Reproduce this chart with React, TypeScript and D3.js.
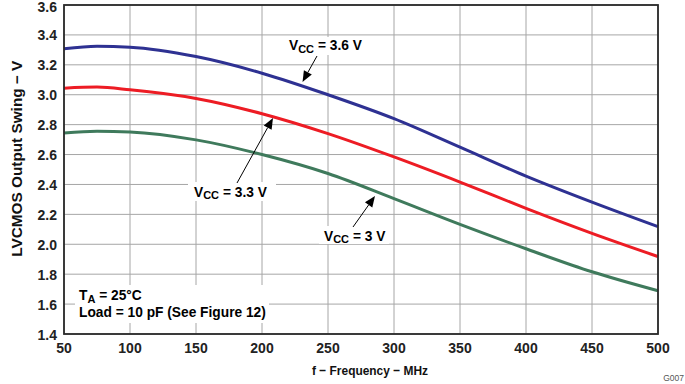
import React from "react";
import * as d3 from "d3";

const freqs = [50, 75, 100, 150, 200, 250, 300, 350, 400, 450, 500];
const vcc36 = [3.307, 3.324, 3.318, 3.255, 3.144, 3.0, 2.84, 2.649, 2.456, 2.282, 2.118];
const vcc33 = [3.044, 3.051, 3.033, 2.975, 2.873, 2.74, 2.584, 2.416, 2.24, 2.073, 1.918];
const vcc30 = [2.744, 2.756, 2.751, 2.698, 2.6, 2.473, 2.305, 2.133, 1.97, 1.816, 1.689];
const xTicks = [50, 100, 150, 200, 250, 300, 350, 400, 450, 500];
const yTicks = [1.4, 1.6, 1.8, 2.0, 2.2, 2.4, 2.6, 2.8, 3.0, 3.2, 3.4, 3.6];

const W = 685, H = 384;
const M = { left: 64, top: 5, right: 27, bottom: 50 };
const FONT = "'Liberation Sans', Arial, sans-serif";
const FS = 13.75;

const series = [
  { name: "3.6 V", values: vcc36, color: "#2e3192" },
  { name: "3.3 V", values: vcc33, color: "#ed1c24" },
  { name: "3 V", values: vcc30, color: "#3f7a5c" },
];

function Arrow({ x1, y1, x2, y2 }: { x1: number; y1: number; x2: number; y2: number }) {
  const ang = Math.atan2(y2 - y1, x2 - x1);
  const len = 11, half = 4.5;
  const bx = x2 - len * Math.cos(ang), by = y2 - len * Math.sin(ang);
  const px = -Math.sin(ang) * half, py = Math.cos(ang) * half;
  return (
    <g>
      <line x1={x1} y1={y1} x2={bx} y2={by} stroke="#000" strokeWidth={1} />
      <polygon points={`${x2},${y2} ${bx + px},${by + py} ${bx - px},${by - py}`} fill="#000" />
    </g>
  );
}

function VccLabel({ x, y, v }: { x: number; y: number; v: string }) {
  return (
    <text x={x} y={y} fontFamily={FONT} fontWeight="bold" fontSize={FS} fill="#000">
      V<tspan fontSize={11} dy={2.5}>CC</tspan>
      <tspan dy={-2.5}>{` = ${v}`}</tspan>
    </text>
  );
}

export default function App() {
  const x = d3.scaleLinear().domain([50, 500]).range([M.left, W - M.right]);
  const y = d3.scaleLinear().domain([1.4, 3.6]).range([H - M.bottom, M.top]);
  const line = d3
    .line<number>()
    .x((_, i) => x(freqs[i]))
    .y((d) => y(d))
    .curve(d3.curveMonotoneX);

  return (
    <svg width={W} height={H} style={{ position: "absolute", left: 0, top: 0, background: "#fff" }}>
      {/* grid */}
      {xTicks.map((t) => (
        <line key={"gx" + t} x1={x(t)} x2={x(t)} y1={M.top} y2={H - M.bottom} stroke="#a6a6a6" strokeWidth={1} />
      ))}
      {yTicks.map((t) => (
        <line key={"gy" + t} x1={M.left} x2={W - M.right} y1={y(t)} y2={y(t)} stroke="#a6a6a6" strokeWidth={1} />
      ))}
      {/* lines */}
      {series.map((s) => (
        <path key={s.name} d={line(s.values) || ""} fill="none" stroke={s.color} strokeWidth={3} />
      ))}
      {/* frame */}
      <rect x={M.left} y={M.top} width={W - M.left - M.right} height={H - M.top - M.bottom} fill="none" stroke="#2a2a2a" strokeWidth={1.8} />
      {/* y tick labels */}
      {yTicks.map((t) => (
        <text key={"ty" + t} x={M.left - 7} y={Math.max(y(t) + 5.5, 11.5)} textAnchor="end" fontFamily={FONT} fontWeight="bold" fontSize={14} fill="#222">
          {t.toFixed(1)}
        </text>
      ))}
      {/* x tick labels */}
      {xTicks.map((t) => (
        <text key={"tx" + t} x={x(t)} y={353} textAnchor="middle" fontFamily={FONT} fontWeight="bold" fontSize={14} fill="#222">
          {t}
        </text>
      ))}
      {/* axis titles */}
      <text x={370} y={375} textAnchor="middle" fontFamily={FONT} fontWeight="bold" fontSize={13.5} fill="#111" textLength={116} lengthAdjust="spacingAndGlyphs">
        f − Frequency − MHz
      </text>
      <text
        transform={`translate(22, 158.7) rotate(-90)`}
        textAnchor="middle"
        fontFamily={FONT}
        fontWeight="bold"
        fontSize={14.5}
        fill="#111"
        textLength={196}
        lengthAdjust="spacingAndGlyphs"
      >
        LVCMOS Output Swing − V
      </text>
      {/* annotations */}
      <rect x={285} y={37} width={88} height={18} fill="#fff" />
      <VccLabel x={289} y={50} v="3.6 V" />
      <Arrow x1={317} y1={56} x2={302.5} y2={82} />

      <rect x={188} y={182} width={88} height={19} fill="#fff" />
      <VccLabel x={194} y={196.7} v="3.3 V" />
      <Arrow x1={237} y1={183} x2={273} y2={118} />

      <rect x={319} y={226} width={70} height={18} fill="#fff" />
      <VccLabel x={324} y={240.7} v="3 V" />
      <Arrow x1={353} y1={227} x2={375} y2={196} />

      {/* conditions box */}
      <rect x={75} y={285} width={194} height={38} fill="#fff" />
      <text x={79} y={299.5} fontFamily={FONT} fontWeight="bold" fontSize={FS} fill="#000">
        T<tspan fontSize={11} dy={3}>A</tspan>
        <tspan dy={-3}> = 25°C</tspan>
      </text>
      <text x={79} y={317} fontFamily={FONT} fontWeight="bold" fontSize={FS} fill="#000">
        Load = 10 pF (See Figure 12)
      </text>
      <text x={684} y={381} textAnchor="end" fontFamily={FONT} fontSize={8.5} fill="#555">
        G007
      </text>
    </svg>
  );
}
